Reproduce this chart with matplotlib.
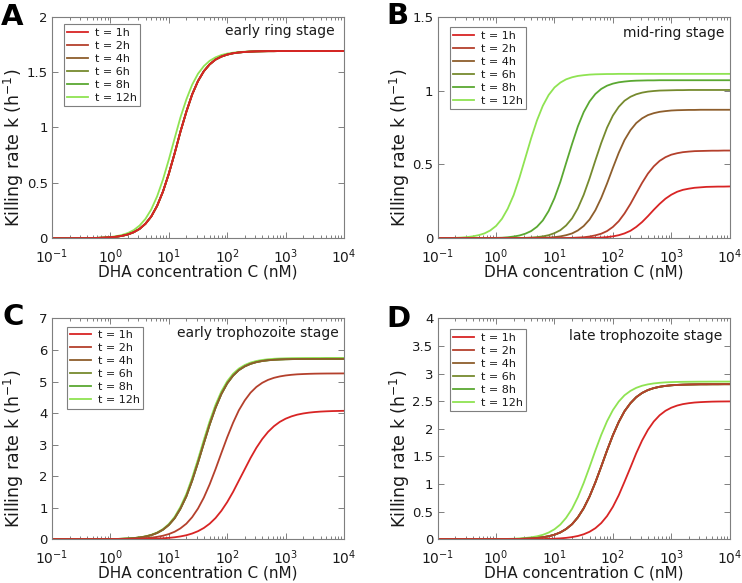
import matplotlib
matplotlib.use('Agg')
import matplotlib.pyplot as plt
from matplotlib.ticker import LogLocator, FuncFormatter, NullFormatter

plt.rcParams['font.family'] = ['DejaVu Sans']

# ---------------- data ----------------
# DHA concentration grid (nM), 0.1-decade steps from 1e-1 to 1e4
conc_nM = [0.1, 0.126, 0.158, 0.2, 0.251, 0.316, 0.398, 0.501, 0.631, 0.794,
           1.0, 1.26, 1.58, 2.0, 2.51, 3.16, 3.98, 5.01, 6.31, 7.94,
           10, 12.6, 15.8, 20, 25.1, 31.6, 39.8, 50.1, 63.1, 79.4,
           100, 126, 158, 200, 251, 316, 398, 501, 631, 794,
           1000, 1260, 1580, 2000, 2510, 3160, 3980, 5010, 6310, 7940, 10000]

time_labels = ['t = 1h', 't = 2h', 't = 4h', 't = 6h', 't = 8h', 't = 12h']
line_colors = ['#d82424', '#b4402c', '#8e5e2c', '#768a2e', '#5aa832', '#8fe352']

# A: early ring stage (1h-8h overlap, 12h slightly left)
k_A_1h_8h = [0.000, 0.000, 0.000, 0.000, 0.001, 0.001, 0.001, 0.002, 0.004, 0.006,
             0.009, 0.014, 0.022, 0.035, 0.055, 0.085, 0.131, 0.197, 0.293, 0.421,
             0.582, 0.767, 0.961, 1.143, 1.298, 1.419, 1.508, 1.570, 1.613, 1.640,
             1.658, 1.670, 1.677, 1.682, 1.685, 1.687, 1.688, 1.689, 1.689, 1.690,
             1.690, 1.690, 1.690, 1.690, 1.690, 1.690, 1.690, 1.690, 1.690, 1.690, 1.690]
k_A_12h = [0.000, 0.000, 0.000, 0.000, 0.001, 0.001, 0.002, 0.003, 0.005, 0.008,
           0.012, 0.019, 0.030, 0.048, 0.074, 0.115, 0.175, 0.261, 0.379, 0.530,
           0.710, 0.903, 1.090, 1.254, 1.386, 1.485, 1.554, 1.602, 1.633, 1.654,
           1.667, 1.675, 1.681, 1.684, 1.686, 1.688, 1.689, 1.689, 1.690, 1.690,
           1.690, 1.690, 1.690, 1.690, 1.690, 1.690, 1.690, 1.690, 1.690, 1.690, 1.690]

# B: mid-ring stage
k_B_1h = [0, 0, 0, 0, 0, 0, 0, 0, 0, 0,
          0, 0, 0, 0, 0, 0, 0, 0, 0, 0,
          0, 0, 0, 0, 0.001, 0.001, 0.002, 0.003, 0.005, 0.008,
          0.013, 0.021, 0.033, 0.051, 0.077, 0.110, 0.150, 0.193, 0.233, 0.268,
          0.295, 0.315, 0.328, 0.336, 0.342, 0.345, 0.348, 0.349, 0.350, 0.350, 0.351]
k_B_2h = [0, 0, 0, 0, 0, 0, 0, 0, 0, 0,
          0, 0, 0, 0, 0, 0, 0, 0, 0, 0,
          0.001, 0.001, 0.002, 0.003, 0.005, 0.007, 0.012, 0.020, 0.031, 0.049,
          0.077, 0.116, 0.168, 0.233, 0.304, 0.375, 0.438, 0.487, 0.524, 0.549,
          0.566, 0.576, 0.583, 0.587, 0.590, 0.591, 0.592, 0.593, 0.593, 0.594, 0.594]
k_B_4h = [0, 0, 0, 0, 0, 0, 0, 0, 0, 0,
          0, 0, 0, 0, 0, 0.001, 0.001, 0.002, 0.003, 0.005,
          0.008, 0.013, 0.021, 0.033, 0.053, 0.083, 0.127, 0.190, 0.273, 0.371,
          0.477, 0.579, 0.665, 0.732, 0.780, 0.812, 0.834, 0.847, 0.856, 0.861,
          0.865, 0.867, 0.868, 0.869, 0.869, 0.870, 0.870, 0.870, 0.870, 0.870, 0.870]
k_B_6h = [0, 0, 0, 0, 0, 0, 0, 0, 0, 0,
          0, 0, 0.001, 0.001, 0.002, 0.003, 0.005, 0.008, 0.013, 0.021,
          0.035, 0.055, 0.087, 0.135, 0.203, 0.294, 0.405, 0.527, 0.645, 0.749,
          0.831, 0.890, 0.931, 0.958, 0.975, 0.986, 0.993, 0.997, 1.000, 1.001,
          1.002, 1.003, 1.003, 1.004, 1.004, 1.004, 1.004, 1.004, 1.004, 1.004, 1.004]
k_B_8h = [0, 0, 0, 0, 0, 0, 0, 0.001, 0.001, 0.002,
          0.003, 0.004, 0.007, 0.012, 0.019, 0.031, 0.049, 0.078, 0.121, 0.185,
          0.272, 0.382, 0.509, 0.639, 0.757, 0.854, 0.926, 0.977, 1.011, 1.033,
          1.047, 1.056, 1.061, 1.065, 1.067, 1.068, 1.069, 1.069, 1.070, 1.070,
          1.070, 1.070, 1.070, 1.070, 1.070, 1.070, 1.070, 1.070, 1.070, 1.070, 1.070]
k_B_12h = [0.001, 0.001, 0.002, 0.003, 0.005, 0.008, 0.013, 0.021, 0.033, 0.053,
           0.084, 0.132, 0.200, 0.293, 0.410, 0.543, 0.677, 0.798, 0.897, 0.970,
           1.021, 1.054, 1.076, 1.090, 1.099, 1.104, 1.108, 1.110, 1.111, 1.112,
           1.112, 1.113, 1.113, 1.113, 1.113, 1.113, 1.113, 1.113, 1.113, 1.113,
           1.113, 1.113, 1.113, 1.113, 1.113, 1.113, 1.113, 1.113, 1.113, 1.113, 1.113]

# C: early trophozoite stage (4h-8h overlap)
k_C_1h = [0, 0, 0, 0, 0, 0, 0, 0, 0.001, 0.001,
          0.001, 0.002, 0.003, 0.004, 0.005, 0.007, 0.011, 0.015, 0.022, 0.031,
          0.045, 0.064, 0.091, 0.129, 0.183, 0.257, 0.359, 0.495, 0.674, 0.902,
          1.179, 1.502, 1.857, 2.223, 2.578, 2.901, 3.178, 3.406, 3.585, 3.722,
          3.823, 3.897, 3.951, 3.989, 4.016, 4.035, 4.049, 4.058, 4.065, 4.069, 4.073]
k_C_2h = [0, 0, 0, 0, 0, 0, 0.001, 0.001, 0.002, 0.002,
          0.003, 0.005, 0.008, 0.011, 0.016, 0.024, 0.036, 0.052, 0.077, 0.113,
          0.165, 0.240, 0.346, 0.496, 0.701, 0.974, 1.322, 1.743, 2.223, 2.733,
          3.234, 3.694, 4.087, 4.404, 4.648, 4.830, 4.961, 5.054, 5.119, 5.163,
          5.194, 5.215, 5.230, 5.239, 5.246, 5.251, 5.254, 5.256, 5.257, 5.258, 5.259]
k_C_4h_8h = [0, 0, 0, 0, 0.001, 0.001, 0.001, 0.002, 0.003, 0.004,
             0.007, 0.010, 0.016, 0.024, 0.037, 0.057, 0.087, 0.133, 0.201, 0.304,
             0.454, 0.669, 0.968, 1.364, 1.859, 2.433, 3.044, 3.639, 4.169, 4.605,
             4.942, 5.189, 5.363, 5.483, 5.563, 5.617, 5.653, 5.676, 5.691, 5.701,
             5.708, 5.712, 5.715, 5.717, 5.718, 5.719, 5.719, 5.720, 5.720, 5.720, 5.720]
k_C_12h = [0, 0, 0, 0, 0.001, 0.001, 0.001, 0.002, 0.003, 0.005,
           0.007, 0.011, 0.017, 0.026, 0.040, 0.061, 0.093, 0.142, 0.215, 0.324,
           0.484, 0.712, 1.026, 1.439, 1.950, 2.536, 3.153, 3.744, 4.264, 4.687,
           5.011, 5.247, 5.412, 5.526, 5.602, 5.653, 5.686, 5.708, 5.723, 5.732,
           5.738, 5.743, 5.745, 5.747, 5.748, 5.749, 5.749, 5.750, 5.750, 5.750, 5.750]

# D: late trophozoite stage (2h-8h overlap)
k_D_1h = [0, 0, 0, 0, 0, 0, 0, 0, 0, 0,
          0, 0, 0, 0.001, 0.001, 0.001, 0.002, 0.003, 0.005, 0.008,
          0.011, 0.017, 0.026, 0.040, 0.060, 0.091, 0.136, 0.201, 0.294, 0.421,
          0.589, 0.799, 1.042, 1.302, 1.559, 1.790, 1.983, 2.134, 2.247, 2.328,
          2.384, 2.423, 2.449, 2.466, 2.478, 2.485, 2.490, 2.494, 2.496, 2.497, 2.498]
k_D_2h_8h = [0, 0, 0, 0, 0, 0, 0, 0, 0.001, 0.001,
             0.001, 0.002, 0.003, 0.005, 0.007, 0.011, 0.016, 0.024, 0.037, 0.055,
             0.083, 0.125, 0.186, 0.274, 0.397, 0.562, 0.775, 1.031, 1.317, 1.610,
             1.886, 2.126, 2.320, 2.467, 2.575, 2.651, 2.704, 2.739, 2.763, 2.779,
             2.790, 2.797, 2.801, 2.804, 2.806, 2.808, 2.808, 2.809, 2.809, 2.810, 2.810]
k_D_12h = [0, 0, 0, 0, 0, 0, 0.001, 0.001, 0.001, 0.002,
           0.003, 0.004, 0.007, 0.010, 0.016, 0.024, 0.036, 0.054, 0.081, 0.122,
           0.182, 0.268, 0.389, 0.553, 0.764, 1.020, 1.309, 1.608, 1.891, 2.139,
           2.341, 2.496, 2.609, 2.689, 2.744, 2.782, 2.807, 2.824, 2.835, 2.843,
           2.848, 2.851, 2.853, 2.854, 2.855, 2.856, 2.856, 2.857, 2.857, 2.857, 2.857]

panel_letters = ['A', 'B', 'C', 'D']
stage_names = ['early ring stage', 'mid-ring stage',
               'early trophozoite stage', 'late trophozoite stage']
y_max = [2, 1.5, 7, 4]
y_step = [0.5, 0.5, 1, 0.5]
panel_curves = [
    [k_A_1h_8h, k_A_1h_8h, k_A_1h_8h, k_A_1h_8h, k_A_1h_8h, k_A_12h],
    [k_B_1h, k_B_2h, k_B_4h, k_B_6h, k_B_8h, k_B_12h],
    [k_C_1h, k_C_2h, k_C_4h_8h, k_C_4h_8h, k_C_4h_8h, k_C_12h],
    [k_D_1h, k_D_2h_8h, k_D_2h_8h, k_D_2h_8h, k_D_2h_8h, k_D_12h],
]

# ---------------- layout (pixel positions of the reference) ----------------
W, H = 742, 583
fig = plt.figure(figsize=(W / 100, H / 100), dpi=100)

axes_px = [(52, 16.7, 292, 221.6), (437.7, 16.7, 292, 221.6),
           (52, 318.5, 292, 220.8), (437.7, 318.5, 292, 220.8)]
legend_off = [(12, 7.6), (12, 10.6), (14.7, 8.4), (12, 11)]
stage_off = [(9, 18.3), (5.7, 20), (5, 18.4), (7.3, 21.6)]
letter_px = [(1, 25), (386, 24.5), (2, 325), (386, 327)]

frame_col = '#7f7f7f'
text_col = '#1a1a1a'

for i in range(4):
    x0, y0, w, h = axes_px[i]
    ax = fig.add_axes([x0 / W, 1 - (y0 + h) / H, w / W, h / H])

    handles = []
    # later times drawn first so that early curves sit on top
    for j in reversed(range(6)):
        ln, = ax.plot(conc_nM, panel_curves[i][j], color=line_colors[j],
                      lw=1.3, label=time_labels[j])
        handles.append(ln)
    handles = handles[::-1]

    ax.set_xscale('log')
    ax.set_xlim(0.1, 1e4)
    ax.set_ylim(0, y_max[i])
    n = int(round(y_max[i] / y_step[i]))
    ax.set_yticks([k * y_step[i] for k in range(n + 1)])
    ax.yaxis.set_major_formatter(FuncFormatter(lambda v, p: '%g' % v))
    ax.xaxis.set_major_locator(LogLocator(base=10, numticks=10))
    ax.xaxis.set_minor_locator(LogLocator(base=10, subs=range(2, 10), numticks=10))
    ax.xaxis.set_minor_formatter(NullFormatter())

    for sp in ax.spines.values():
        sp.set_color(frame_col)
        sp.set_linewidth(0.8)
    ax.tick_params(which='both', direction='in', top=True, right=True,
                   color=frame_col, width=0.7)
    ax.tick_params(which='major', length=4, labelcolor=text_col)
    ax.tick_params(axis='y', which='major', pad=3, labelsize=9.5)
    ax.tick_params(axis='x', which='major', pad=6.5, labelsize=10)
    ax.tick_params(which='minor', length=2)

    ax.set_xlabel('DHA concentration C (nM)', fontsize=11, color=text_col)
    ax.set_ylabel('Killing rate k (h$^{-1}$)', fontsize=12.5, color=text_col)
    ax.xaxis.set_label_coords(0.5, -0.12)
    ax.yaxis.set_label_coords(-0.088, 0.41)

    lx, ly = legend_off[i]
    leg = ax.legend(handles=handles, loc='upper left',
                    bbox_to_anchor=(lx / w, 1 - ly / h), borderaxespad=0,
                    fontsize=8, handlelength=1.9, handletextpad=0.6,
                    labelspacing=0.27, borderpad=0.3, fancybox=False,
                    framealpha=1)
    leg.get_frame().set_edgecolor(frame_col)
    leg.get_frame().set_linewidth(0.8)
    for t in leg.get_texts():
        t.set_color(text_col)

    sx, sy = stage_off[i]
    ax.text(1 - sx / w, 1 - sy / h, stage_names[i], transform=ax.transAxes,
            ha='right', va='baseline', fontsize=10, color=text_col)

    px, py = letter_px[i]
    fig.text(px / W, 1 - py / H, panel_letters[i], ha='left', va='baseline',
             fontsize=21, fontweight='bold', color='black')

fig.savefig('out.png', dpi=100)
